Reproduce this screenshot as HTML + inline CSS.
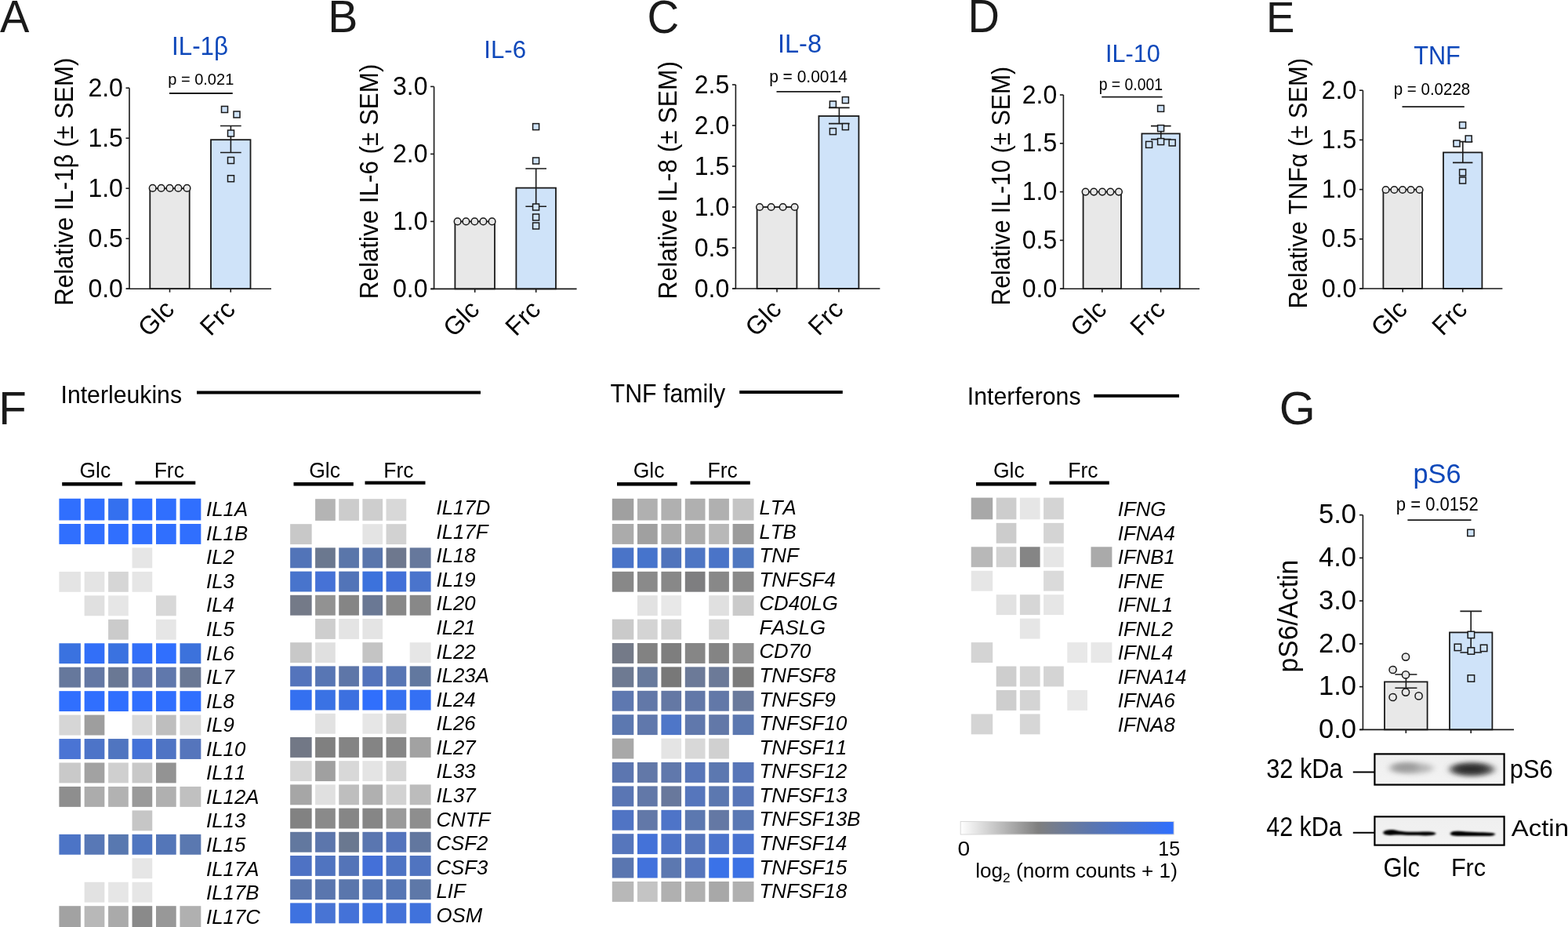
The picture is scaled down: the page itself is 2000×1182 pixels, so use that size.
<!DOCTYPE html>
<html><head><meta charset="utf-8"><title>Figure</title><style>html,body{margin:0;padding:0;background:#fff;}svg{display:block;}text{font-kerning:none;}</style></head><body>
<svg xmlns="http://www.w3.org/2000/svg" width="2000" height="1182" viewBox="0 0 2000 1182" font-family="'Liberation Sans', Arial, sans-serif">
<rect width="2000" height="1182" fill="#ffffff"/>
<text id="LA" transform="translate(0.00,40.98) scale(1.0012,1.0281)" font-size="56" fill="#1a1a1a">A</text>
<text id="tA" transform="translate(255.01,69.80) scale(0.9769,1.0498)" font-size="32" text-anchor="middle" fill="#0e48ba">IL-1β</text>
<rect x="191.30" y="240.20" width="50.40" height="128.00" fill="#e8e8e8" stroke="#1a1a1a" stroke-width="1.8"/>
<rect x="269.00" y="178.20" width="50.50" height="190.00" fill="#cfe3f9" stroke="#1a1a1a" stroke-width="1.8"/>
<path d="M165.00,112.20 V368.20 M161.00,368.20 H346.00" stroke="#1a1a1a" stroke-width="1.6" fill="none"/>
<path d="M160.50,368.20 H165.00" stroke="#1a1a1a" stroke-width="1.6"/>
<text transform="translate(156.90,378.80) scale(1.0000,1.0400)" font-size="32.0" text-anchor="end">0.0</text>
<path d="M160.50,304.20 H165.00" stroke="#1a1a1a" stroke-width="1.6"/>
<text transform="translate(156.90,314.80) scale(1.0000,1.0400)" font-size="32.0" text-anchor="end">0.5</text>
<path d="M160.50,240.20 H165.00" stroke="#1a1a1a" stroke-width="1.6"/>
<text transform="translate(156.90,250.80) scale(1.0000,1.0400)" font-size="32.0" text-anchor="end">1.0</text>
<path d="M160.50,176.20 H165.00" stroke="#1a1a1a" stroke-width="1.6"/>
<text transform="translate(156.90,186.80) scale(1.0000,1.0400)" font-size="32.0" text-anchor="end">1.5</text>
<path d="M160.50,112.20 H165.00" stroke="#1a1a1a" stroke-width="1.6"/>
<text transform="translate(156.90,122.80) scale(1.0000,1.0400)" font-size="32.0" text-anchor="end">2.0</text>
<path d="M216.50,368.20 V372.70" stroke="#1a1a1a" stroke-width="1.6"/>
<path d="M294.25,368.20 V372.70" stroke="#1a1a1a" stroke-width="1.6"/>
<text transform="translate(224.00,396.50) rotate(-45)" font-size="32.5" text-anchor="end">Glc</text>
<text transform="translate(301.75,396.50) rotate(-45)" font-size="32.5" text-anchor="end">Frc</text>
<path d="M294.40,160.50 V194.50 M281.00,160.50 H307.70 M281.00,194.50 H307.70" stroke="#1a1a1a" stroke-width="1.6" fill="none"/>
<circle cx="194.70" cy="239.90" r="4.3" fill="#e8e8e8" stroke="#1a1a1a" stroke-width="1.5"/>
<circle cx="205.60" cy="239.90" r="4.3" fill="#e8e8e8" stroke="#1a1a1a" stroke-width="1.5"/>
<circle cx="216.50" cy="239.90" r="4.3" fill="#e8e8e8" stroke="#1a1a1a" stroke-width="1.5"/>
<circle cx="227.40" cy="239.90" r="4.3" fill="#e8e8e8" stroke="#1a1a1a" stroke-width="1.5"/>
<circle cx="238.50" cy="239.90" r="4.3" fill="#e8e8e8" stroke="#1a1a1a" stroke-width="1.5"/>
<rect x="282.50" y="135.50" width="8.0" height="8.0" fill="#cfe3f9" stroke="#1a1a1a" stroke-width="1.5"/>
<rect x="298.00" y="142.00" width="8.0" height="8.0" fill="#cfe3f9" stroke="#1a1a1a" stroke-width="1.5"/>
<rect x="290.50" y="166.00" width="8.0" height="8.0" fill="#cfe3f9" stroke="#1a1a1a" stroke-width="1.5"/>
<rect x="290.50" y="200.50" width="8.0" height="8.0" fill="#cfe3f9" stroke="#1a1a1a" stroke-width="1.5"/>
<rect x="290.50" y="223.70" width="8.0" height="8.0" fill="#cfe3f9" stroke="#1a1a1a" stroke-width="1.5"/>
<text id="pA" transform="translate(256.25,107.59) scale(0.9539,0.9886)" font-size="21" text-anchor="middle">p = 0.021</text>
<path d="M216.00,119.00 H296.75" stroke="#1a1a1a" stroke-width="1.8"/>
<text id="yA" transform="translate(92.50,231.65) rotate(-90) scale(0.9889,1.0400)" font-size="31.6" text-anchor="middle">Relative IL-1β (± SEM)</text>
<text id="LB" transform="translate(418.17,41.20) scale(1.0217,1.0391)" font-size="56" fill="#1a1a1a">B</text>
<text id="tB" transform="translate(644.15,73.95) scale(0.9751,0.9993)" font-size="32" text-anchor="middle" fill="#0e48ba">IL-6</text>
<rect x="580.40" y="282.40" width="50.60" height="86.00" fill="#e8e8e8" stroke="#1a1a1a" stroke-width="1.8"/>
<rect x="658.40" y="239.60" width="50.60" height="128.80" fill="#cfe3f9" stroke="#1a1a1a" stroke-width="1.8"/>
<path d="M553.60,110.40 V368.40 M549.60,368.40 H735.60" stroke="#1a1a1a" stroke-width="1.6" fill="none"/>
<path d="M549.10,368.40 H553.60" stroke="#1a1a1a" stroke-width="1.6"/>
<text transform="translate(545.50,379.00) scale(1.0000,1.0400)" font-size="32.0" text-anchor="end">0.0</text>
<path d="M549.10,282.40 H553.60" stroke="#1a1a1a" stroke-width="1.6"/>
<text transform="translate(545.50,293.00) scale(1.0000,1.0400)" font-size="32.0" text-anchor="end">1.0</text>
<path d="M549.10,196.40 H553.60" stroke="#1a1a1a" stroke-width="1.6"/>
<text transform="translate(545.50,207.00) scale(1.0000,1.0400)" font-size="32.0" text-anchor="end">2.0</text>
<path d="M549.10,110.40 H553.60" stroke="#1a1a1a" stroke-width="1.6"/>
<text transform="translate(545.50,121.00) scale(1.0000,1.0400)" font-size="32.0" text-anchor="end">3.0</text>
<path d="M605.70,368.40 V372.90" stroke="#1a1a1a" stroke-width="1.6"/>
<path d="M683.70,368.40 V372.90" stroke="#1a1a1a" stroke-width="1.6"/>
<text transform="translate(613.20,396.70) rotate(-45)" font-size="32.5" text-anchor="end">Glc</text>
<text transform="translate(691.20,396.70) rotate(-45)" font-size="32.5" text-anchor="end">Frc</text>
<path d="M683.70,215.00 V263.20 M670.40,215.00 H697.00 M670.40,263.20 H697.00" stroke="#1a1a1a" stroke-width="1.6" fill="none"/>
<circle cx="583.60" cy="282.40" r="4.3" fill="#e8e8e8" stroke="#1a1a1a" stroke-width="1.5"/>
<circle cx="594.40" cy="282.40" r="4.3" fill="#e8e8e8" stroke="#1a1a1a" stroke-width="1.5"/>
<circle cx="605.40" cy="282.40" r="4.3" fill="#e8e8e8" stroke="#1a1a1a" stroke-width="1.5"/>
<circle cx="616.40" cy="282.40" r="4.3" fill="#e8e8e8" stroke="#1a1a1a" stroke-width="1.5"/>
<circle cx="627.60" cy="282.40" r="4.3" fill="#e8e8e8" stroke="#1a1a1a" stroke-width="1.5"/>
<rect x="679.60" y="157.60" width="8.0" height="8.0" fill="#cfe3f9" stroke="#1a1a1a" stroke-width="1.5"/>
<rect x="679.60" y="201.00" width="8.0" height="8.0" fill="#cfe3f9" stroke="#1a1a1a" stroke-width="1.5"/>
<rect x="679.60" y="260.00" width="8.0" height="8.0" fill="#cfe3f9" stroke="#1a1a1a" stroke-width="1.5"/>
<rect x="679.60" y="273.00" width="8.0" height="8.0" fill="#cfe3f9" stroke="#1a1a1a" stroke-width="1.5"/>
<rect x="679.60" y="284.00" width="8.0" height="8.0" fill="#cfe3f9" stroke="#1a1a1a" stroke-width="1.5"/>
<text id="yB" transform="translate(481.70,231.40) rotate(-90) scale(0.9926,1.0400)" font-size="31.6" text-anchor="middle">Relative IL-6 (± SEM)</text>
<text id="LC" transform="translate(825.54,41.59) scale(1.0068,1.0585)" font-size="56" fill="#1a1a1a">C</text>
<text id="tC" transform="translate(1020.00,66.50) scale(1.0164,1.0466)" font-size="32" text-anchor="middle" fill="#0e48ba">IL-8</text>
<rect x="965.60" y="264.00" width="50.80" height="104.00" fill="#e8e8e8" stroke="#1a1a1a" stroke-width="1.8"/>
<rect x="1044.40" y="148.00" width="51.00" height="220.00" fill="#cfe3f9" stroke="#1a1a1a" stroke-width="1.8"/>
<path d="M938.40,108.00 V368.00 M934.40,368.00 H1122.40" stroke="#1a1a1a" stroke-width="1.6" fill="none"/>
<path d="M933.90,368.00 H938.40" stroke="#1a1a1a" stroke-width="1.6"/>
<text transform="translate(930.30,378.60) scale(1.0000,1.0400)" font-size="32.0" text-anchor="end">0.0</text>
<path d="M933.90,316.00 H938.40" stroke="#1a1a1a" stroke-width="1.6"/>
<text transform="translate(930.30,326.60) scale(1.0000,1.0400)" font-size="32.0" text-anchor="end">0.5</text>
<path d="M933.90,264.00 H938.40" stroke="#1a1a1a" stroke-width="1.6"/>
<text transform="translate(930.30,274.60) scale(1.0000,1.0400)" font-size="32.0" text-anchor="end">1.0</text>
<path d="M933.90,212.00 H938.40" stroke="#1a1a1a" stroke-width="1.6"/>
<text transform="translate(930.30,222.60) scale(1.0000,1.0400)" font-size="32.0" text-anchor="end">1.5</text>
<path d="M933.90,160.00 H938.40" stroke="#1a1a1a" stroke-width="1.6"/>
<text transform="translate(930.30,170.60) scale(1.0000,1.0400)" font-size="32.0" text-anchor="end">2.0</text>
<path d="M933.90,108.00 H938.40" stroke="#1a1a1a" stroke-width="1.6"/>
<text transform="translate(930.30,118.60) scale(1.0000,1.0400)" font-size="32.0" text-anchor="end">2.5</text>
<path d="M991.00,368.00 V372.50" stroke="#1a1a1a" stroke-width="1.6"/>
<path d="M1069.90,368.00 V372.50" stroke="#1a1a1a" stroke-width="1.6"/>
<text transform="translate(998.50,396.30) rotate(-45)" font-size="32.5" text-anchor="end">Glc</text>
<text transform="translate(1077.40,396.30) rotate(-45)" font-size="32.5" text-anchor="end">Frc</text>
<path d="M1070.40,137.40 V157.60 M1057.00,137.40 H1083.60 M1057.00,157.60 H1083.60" stroke="#1a1a1a" stroke-width="1.6" fill="none"/>
<circle cx="969.00" cy="264.00" r="4.3" fill="#e8e8e8" stroke="#1a1a1a" stroke-width="1.5"/>
<circle cx="983.60" cy="264.00" r="4.3" fill="#e8e8e8" stroke="#1a1a1a" stroke-width="1.5"/>
<circle cx="998.60" cy="264.00" r="4.3" fill="#e8e8e8" stroke="#1a1a1a" stroke-width="1.5"/>
<circle cx="1013.60" cy="264.00" r="4.3" fill="#e8e8e8" stroke="#1a1a1a" stroke-width="1.5"/>
<rect x="1058.40" y="129.00" width="8.0" height="8.0" fill="#cfe3f9" stroke="#1a1a1a" stroke-width="1.5"/>
<rect x="1074.40" y="123.60" width="8.0" height="8.0" fill="#cfe3f9" stroke="#1a1a1a" stroke-width="1.5"/>
<rect x="1074.40" y="157.60" width="8.0" height="8.0" fill="#cfe3f9" stroke="#1a1a1a" stroke-width="1.5"/>
<rect x="1058.40" y="163.60" width="8.0" height="8.0" fill="#cfe3f9" stroke="#1a1a1a" stroke-width="1.5"/>
<text id="pC" transform="translate(1031.00,105.31) scale(1.0001,1.0140)" font-size="21" text-anchor="middle">p = 0.0014</text>
<path d="M990.50,116.90 H1072.20" stroke="#1a1a1a" stroke-width="1.8"/>
<text id="yC" transform="translate(862.70,229.70) rotate(-90) scale(1.0054,1.0400)" font-size="31.6" text-anchor="middle">Relative IL-8 (± SEM)</text>
<text id="LD" transform="translate(1234.50,41.24) scale(1.0000,1.0538)" font-size="56" fill="#1a1a1a">D</text>
<text id="tD" transform="translate(1444.95,79.15) scale(0.9576,0.9798)" font-size="32" text-anchor="middle" fill="#0e48ba">IL-10</text>
<rect x="1381.60" y="244.60" width="48.40" height="123.60" fill="#e8e8e8" stroke="#1a1a1a" stroke-width="1.8"/>
<rect x="1456.40" y="170.40" width="48.40" height="197.80" fill="#cfe3f9" stroke="#1a1a1a" stroke-width="1.8"/>
<path d="M1356.40,121.00 V368.20 M1352.40,368.20 H1530.00" stroke="#1a1a1a" stroke-width="1.6" fill="none"/>
<path d="M1351.90,368.20 H1356.40" stroke="#1a1a1a" stroke-width="1.6"/>
<text transform="translate(1348.30,378.80) scale(1.0000,1.0400)" font-size="32.0" text-anchor="end">0.0</text>
<path d="M1351.90,306.40 H1356.40" stroke="#1a1a1a" stroke-width="1.6"/>
<text transform="translate(1348.30,317.00) scale(1.0000,1.0400)" font-size="32.0" text-anchor="end">0.5</text>
<path d="M1351.90,244.60 H1356.40" stroke="#1a1a1a" stroke-width="1.6"/>
<text transform="translate(1348.30,255.20) scale(1.0000,1.0400)" font-size="32.0" text-anchor="end">1.0</text>
<path d="M1351.90,182.80 H1356.40" stroke="#1a1a1a" stroke-width="1.6"/>
<text transform="translate(1348.30,193.40) scale(1.0000,1.0400)" font-size="32.0" text-anchor="end">1.5</text>
<path d="M1351.90,121.00 H1356.40" stroke="#1a1a1a" stroke-width="1.6"/>
<text transform="translate(1348.30,131.60) scale(1.0000,1.0400)" font-size="32.0" text-anchor="end">2.0</text>
<path d="M1405.80,368.20 V372.70" stroke="#1a1a1a" stroke-width="1.6"/>
<path d="M1480.60,368.20 V372.70" stroke="#1a1a1a" stroke-width="1.6"/>
<text transform="translate(1413.30,396.50) rotate(-45)" font-size="32.5" text-anchor="end">Glc</text>
<text transform="translate(1488.10,396.50) rotate(-45)" font-size="32.5" text-anchor="end">Frc</text>
<path d="M1480.80,160.60 V177.60 M1468.00,160.60 H1493.60 M1468.00,177.60 H1493.60" stroke="#1a1a1a" stroke-width="1.6" fill="none"/>
<circle cx="1384.60" cy="244.60" r="4.3" fill="#e8e8e8" stroke="#1a1a1a" stroke-width="1.5"/>
<circle cx="1395.20" cy="244.60" r="4.3" fill="#e8e8e8" stroke="#1a1a1a" stroke-width="1.5"/>
<circle cx="1406.00" cy="244.60" r="4.3" fill="#e8e8e8" stroke="#1a1a1a" stroke-width="1.5"/>
<circle cx="1416.40" cy="244.60" r="4.3" fill="#e8e8e8" stroke="#1a1a1a" stroke-width="1.5"/>
<circle cx="1427.00" cy="244.60" r="4.3" fill="#e8e8e8" stroke="#1a1a1a" stroke-width="1.5"/>
<rect x="1476.60" y="134.40" width="8.0" height="8.0" fill="#cfe3f9" stroke="#1a1a1a" stroke-width="1.5"/>
<rect x="1476.60" y="159.60" width="8.0" height="8.0" fill="#cfe3f9" stroke="#1a1a1a" stroke-width="1.5"/>
<rect x="1476.60" y="176.60" width="8.0" height="8.0" fill="#cfe3f9" stroke="#1a1a1a" stroke-width="1.5"/>
<rect x="1461.60" y="180.40" width="8.0" height="8.0" fill="#cfe3f9" stroke="#1a1a1a" stroke-width="1.5"/>
<rect x="1491.20" y="178.00" width="8.0" height="8.0" fill="#cfe3f9" stroke="#1a1a1a" stroke-width="1.5"/>
<text id="pD" transform="translate(1442.39,115.44) scale(0.9246,1.0604)" font-size="21" text-anchor="middle">p = 0.001</text>
<path d="M1405.25,123.60 H1482.75" stroke="#1a1a1a" stroke-width="1.8"/>
<text id="yD" transform="translate(1288.20,237.19) rotate(-90) scale(0.9543,1.0400)" font-size="31.6" text-anchor="middle">Relative IL-10 (± SEM)</text>
<text id="LE" transform="translate(1614.89,40.77) scale(0.9745,1.0011)" font-size="56" fill="#1a1a1a">E</text>
<text id="tE" transform="translate(1832.95,81.81) scale(0.9585,1.0179)" font-size="32" text-anchor="middle" fill="#0e48ba">TNF</text>
<rect x="1764.40" y="241.60" width="49.60" height="126.40" fill="#e8e8e8" stroke="#1a1a1a" stroke-width="1.8"/>
<rect x="1841.00" y="194.40" width="49.40" height="173.60" fill="#cfe3f9" stroke="#1a1a1a" stroke-width="1.8"/>
<path d="M1738.40,115.20 V368.00 M1734.40,368.00 H1916.40" stroke="#1a1a1a" stroke-width="1.6" fill="none"/>
<path d="M1733.90,368.00 H1738.40" stroke="#1a1a1a" stroke-width="1.6"/>
<text transform="translate(1730.30,378.60) scale(1.0000,1.0400)" font-size="32.0" text-anchor="end">0.0</text>
<path d="M1733.90,304.80 H1738.40" stroke="#1a1a1a" stroke-width="1.6"/>
<text transform="translate(1730.30,315.40) scale(1.0000,1.0400)" font-size="32.0" text-anchor="end">0.5</text>
<path d="M1733.90,241.60 H1738.40" stroke="#1a1a1a" stroke-width="1.6"/>
<text transform="translate(1730.30,252.20) scale(1.0000,1.0400)" font-size="32.0" text-anchor="end">1.0</text>
<path d="M1733.90,178.40 H1738.40" stroke="#1a1a1a" stroke-width="1.6"/>
<text transform="translate(1730.30,189.00) scale(1.0000,1.0400)" font-size="32.0" text-anchor="end">1.5</text>
<path d="M1733.90,115.20 H1738.40" stroke="#1a1a1a" stroke-width="1.6"/>
<text transform="translate(1730.30,125.80) scale(1.0000,1.0400)" font-size="32.0" text-anchor="end">2.0</text>
<path d="M1789.20,368.00 V372.50" stroke="#1a1a1a" stroke-width="1.6"/>
<path d="M1865.70,368.00 V372.50" stroke="#1a1a1a" stroke-width="1.6"/>
<text transform="translate(1796.70,396.30) rotate(-45)" font-size="32.5" text-anchor="end">Glc</text>
<text transform="translate(1873.20,396.30) rotate(-45)" font-size="32.5" text-anchor="end">Frc</text>
<path d="M1865.80,180.60 V207.40 M1853.00,180.60 H1878.40 M1853.00,207.40 H1878.40" stroke="#1a1a1a" stroke-width="1.6" fill="none"/>
<circle cx="1767.60" cy="242.00" r="4.3" fill="#e8e8e8" stroke="#1a1a1a" stroke-width="1.5"/>
<circle cx="1778.40" cy="242.00" r="4.3" fill="#e8e8e8" stroke="#1a1a1a" stroke-width="1.5"/>
<circle cx="1789.00" cy="242.00" r="4.3" fill="#e8e8e8" stroke="#1a1a1a" stroke-width="1.5"/>
<circle cx="1799.60" cy="242.00" r="4.3" fill="#e8e8e8" stroke="#1a1a1a" stroke-width="1.5"/>
<circle cx="1810.60" cy="242.00" r="4.3" fill="#e8e8e8" stroke="#1a1a1a" stroke-width="1.5"/>
<rect x="1861.60" y="155.60" width="8.0" height="8.0" fill="#cfe3f9" stroke="#1a1a1a" stroke-width="1.5"/>
<rect x="1869.20" y="173.00" width="8.0" height="8.0" fill="#cfe3f9" stroke="#1a1a1a" stroke-width="1.5"/>
<rect x="1854.00" y="179.00" width="8.0" height="8.0" fill="#cfe3f9" stroke="#1a1a1a" stroke-width="1.5"/>
<rect x="1861.60" y="216.00" width="8.0" height="8.0" fill="#cfe3f9" stroke="#1a1a1a" stroke-width="1.5"/>
<rect x="1861.60" y="226.00" width="8.0" height="8.0" fill="#cfe3f9" stroke="#1a1a1a" stroke-width="1.5"/>
<text id="pE" transform="translate(1826.50,121.01) scale(0.9776,1.0752)" font-size="21" text-anchor="middle">p = 0.0228</text>
<path d="M1788.50,136.20 H1867.80" stroke="#1a1a1a" stroke-width="1.8"/>
<text id="yE" transform="translate(1667.40,233.84) rotate(-90) scale(0.9774,1.0400)" font-size="31.6" text-anchor="middle">Relative TNFα (± SEM)</text>
<text id="LF" transform="translate(-1.66,541.48) scale(1.0405,1.0559)" font-size="56" fill="#1a1a1a">F</text>
<text id="hIL" transform="translate(77.53,513.94) scale(0.9908,1.0288)" font-size="30.5">Interleukins</text>
<path d="M251,500.5 H613" stroke="#000" stroke-width="4"/>
<text id="hTNF" transform="translate(778.61,513.40) scale(0.9945,1.0830)" font-size="30.5">TNF family</text>
<path d="M943.2,500 H1074.8" stroke="#000" stroke-width="4"/>
<text id="hIFN" transform="translate(1233.82,515.81) scale(0.9930,1.0359)" font-size="30.5">Interferons</text>
<path d="M1395.2,504.8 H1504" stroke="#000" stroke-width="4"/>
<path d="M79.20,617.3 H156.00 M172.50,615.6 H249.30" stroke="#000" stroke-width="4.4"/>
<text transform="translate(121.30,608.70) scale(1.0000,1.0500)" font-size="26.5" text-anchor="middle">Glc</text>
<text transform="translate(215.80,608.70) scale(1.0000,1.0500)" font-size="26.5" text-anchor="middle">Frc</text>
<path d="M374.50,617.3 H450.80 M465.50,615.6 H542.50" stroke="#000" stroke-width="4.4"/>
<text transform="translate(414.00,608.70) scale(1.0000,1.0500)" font-size="26.5" text-anchor="middle">Glc</text>
<text transform="translate(508.50,608.70) scale(1.0000,1.0500)" font-size="26.5" text-anchor="middle">Frc</text>
<path d="M787.00,617.3 H863.70 M880.50,615.6 H956.80" stroke="#000" stroke-width="4.4"/>
<text transform="translate(827.60,608.70) scale(1.0000,1.0500)" font-size="26.5" text-anchor="middle">Glc</text>
<text transform="translate(921.70,608.70) scale(1.0000,1.0500)" font-size="26.5" text-anchor="middle">Frc</text>
<path d="M1245.00,617.3 H1321.80 M1338.40,615.6 H1414.80" stroke="#000" stroke-width="4.4"/>
<text transform="translate(1286.80,608.70) scale(1.0000,1.0500)" font-size="26.5" text-anchor="middle">Glc</text>
<text transform="translate(1381.50,608.70) scale(1.0000,1.0500)" font-size="26.5" text-anchor="middle">Frc</text>
<rect x="75.40" y="635.75" width="27.50" height="27.70" fill="#306ffe"/>
<rect x="107.65" y="635.75" width="25.70" height="27.70" fill="#306ffe"/>
<rect x="138.10" y="635.75" width="25.70" height="27.70" fill="#3470ef"/>
<rect x="168.55" y="635.75" width="25.70" height="27.70" fill="#306ffe"/>
<rect x="199.00" y="635.75" width="25.70" height="27.70" fill="#306ffe"/>
<rect x="229.45" y="635.75" width="26.90" height="27.70" fill="#306ffe"/>
<rect x="75.40" y="668.00" width="27.50" height="25.90" fill="#306ffe"/>
<rect x="107.65" y="668.00" width="25.70" height="25.90" fill="#306ffe"/>
<rect x="138.10" y="668.00" width="25.70" height="25.90" fill="#306ffe"/>
<rect x="168.55" y="668.00" width="25.70" height="25.90" fill="#306ffe"/>
<rect x="199.00" y="668.00" width="25.70" height="25.90" fill="#306ffe"/>
<rect x="229.45" y="668.00" width="26.90" height="25.90" fill="#306ffe"/>
<rect x="168.55" y="698.45" width="25.70" height="25.90" fill="#e6e6e6"/>
<rect x="75.40" y="728.90" width="27.50" height="25.90" fill="#e4e4e4"/>
<rect x="107.65" y="728.90" width="25.70" height="25.90" fill="#e4e4e4"/>
<rect x="138.10" y="728.90" width="25.70" height="25.90" fill="#d6d6d6"/>
<rect x="168.55" y="728.90" width="25.70" height="25.90" fill="#e6e6e6"/>
<rect x="107.65" y="759.35" width="25.70" height="25.90" fill="#e0e0e0"/>
<rect x="138.10" y="759.35" width="25.70" height="25.90" fill="#e6e6e6"/>
<rect x="199.00" y="759.35" width="25.70" height="25.90" fill="#d8d8d8"/>
<rect x="138.10" y="789.80" width="25.70" height="25.90" fill="#cbcbcb"/>
<rect x="199.00" y="789.80" width="25.70" height="25.90" fill="#e6e6e6"/>
<rect x="75.40" y="820.25" width="27.50" height="25.90" fill="#3a72e0"/>
<rect x="107.65" y="820.25" width="25.70" height="25.90" fill="#326ff8"/>
<rect x="138.10" y="820.25" width="25.70" height="25.90" fill="#3a72e0"/>
<rect x="168.55" y="820.25" width="25.70" height="25.90" fill="#326ff8"/>
<rect x="199.00" y="820.25" width="25.70" height="25.90" fill="#306ffe"/>
<rect x="229.45" y="820.25" width="26.90" height="25.90" fill="#3c72dc"/>
<rect x="75.40" y="850.70" width="27.50" height="25.90" fill="#66789c"/>
<rect x="107.65" y="850.70" width="25.70" height="25.90" fill="#6478a4"/>
<rect x="138.10" y="850.70" width="25.70" height="25.90" fill="#6a7894"/>
<rect x="168.55" y="850.70" width="25.70" height="25.90" fill="#6478a8"/>
<rect x="199.00" y="850.70" width="25.70" height="25.90" fill="#6078ac"/>
<rect x="229.45" y="850.70" width="26.90" height="25.90" fill="#6a7894"/>
<rect x="75.40" y="881.15" width="27.50" height="25.90" fill="#306ffe"/>
<rect x="107.65" y="881.15" width="25.70" height="25.90" fill="#306ffe"/>
<rect x="138.10" y="881.15" width="25.70" height="25.90" fill="#306ffe"/>
<rect x="168.55" y="881.15" width="25.70" height="25.90" fill="#306ffe"/>
<rect x="199.00" y="881.15" width="25.70" height="25.90" fill="#306ffe"/>
<rect x="229.45" y="881.15" width="26.90" height="25.90" fill="#306ffe"/>
<rect x="75.40" y="911.60" width="27.50" height="25.90" fill="#d6d6d6"/>
<rect x="107.65" y="911.60" width="25.70" height="25.90" fill="#9e9e9e"/>
<rect x="168.55" y="911.60" width="25.70" height="25.90" fill="#dadada"/>
<rect x="199.00" y="911.60" width="25.70" height="25.90" fill="#bebebe"/>
<rect x="229.45" y="911.60" width="26.90" height="25.90" fill="#dadada"/>
<rect x="75.40" y="942.05" width="27.50" height="25.90" fill="#4a74d4"/>
<rect x="107.65" y="942.05" width="25.70" height="25.90" fill="#4d74c8"/>
<rect x="138.10" y="942.05" width="25.70" height="25.90" fill="#5075c0"/>
<rect x="168.55" y="942.05" width="25.70" height="25.90" fill="#4472d8"/>
<rect x="199.00" y="942.05" width="25.70" height="25.90" fill="#4f74c4"/>
<rect x="229.45" y="942.05" width="26.90" height="25.90" fill="#5575bc"/>
<rect x="75.40" y="972.50" width="27.50" height="25.90" fill="#c9c9c9"/>
<rect x="107.65" y="972.50" width="25.70" height="25.90" fill="#a2a2a2"/>
<rect x="138.10" y="972.50" width="25.70" height="25.90" fill="#cfcfcf"/>
<rect x="168.55" y="972.50" width="25.70" height="25.90" fill="#c8c8c8"/>
<rect x="199.00" y="972.50" width="25.70" height="25.90" fill="#939393"/>
<rect x="75.40" y="1002.95" width="27.50" height="25.90" fill="#8e8e8e"/>
<rect x="107.65" y="1002.95" width="25.70" height="25.90" fill="#acacac"/>
<rect x="138.10" y="1002.95" width="25.70" height="25.90" fill="#b2b2b2"/>
<rect x="168.55" y="1002.95" width="25.70" height="25.90" fill="#9a9a9a"/>
<rect x="199.00" y="1002.95" width="25.70" height="25.90" fill="#b0b0b0"/>
<rect x="229.45" y="1002.95" width="26.90" height="25.90" fill="#c0c0c0"/>
<rect x="168.55" y="1033.40" width="25.70" height="25.90" fill="#c6c6c6"/>
<rect x="75.40" y="1063.85" width="27.50" height="25.90" fill="#4c74c6"/>
<rect x="107.65" y="1063.85" width="25.70" height="25.90" fill="#5878b6"/>
<rect x="138.10" y="1063.85" width="25.70" height="25.90" fill="#5878b0"/>
<rect x="168.55" y="1063.85" width="25.70" height="25.90" fill="#5076c0"/>
<rect x="199.00" y="1063.85" width="25.70" height="25.90" fill="#5476b8"/>
<rect x="229.45" y="1063.85" width="26.90" height="25.90" fill="#5a78b0"/>
<rect x="168.55" y="1094.30" width="25.70" height="25.90" fill="#e6e6e6"/>
<rect x="107.65" y="1124.75" width="25.70" height="25.90" fill="#e2e2e2"/>
<rect x="138.10" y="1124.75" width="25.70" height="25.90" fill="#e6e6e6"/>
<rect x="168.55" y="1124.75" width="25.70" height="25.90" fill="#e6e6e6"/>
<rect x="75.40" y="1155.20" width="27.50" height="26.80" fill="#a2a2a2"/>
<rect x="107.65" y="1155.20" width="25.70" height="26.80" fill="#b8b8b8"/>
<rect x="138.10" y="1155.20" width="25.70" height="26.80" fill="#aaaaaa"/>
<rect x="168.55" y="1155.20" width="25.70" height="26.80" fill="#8a8a8a"/>
<rect x="199.00" y="1155.20" width="25.70" height="26.80" fill="#989898"/>
<rect x="229.45" y="1155.20" width="26.90" height="26.80" fill="#b0b0b0"/>
<text transform="translate(263.10,658.15) scale(1.0000,0.9800)" font-size="25.8" font-style="italic">IL1A</text>
<text transform="translate(263.10,688.71) scale(1.0000,0.9800)" font-size="25.8" font-style="italic">IL1B</text>
<text transform="translate(263.10,719.28) scale(1.0000,0.9800)" font-size="25.8" font-style="italic">IL2</text>
<text transform="translate(263.10,749.84) scale(1.0000,0.9800)" font-size="25.8" font-style="italic">IL3</text>
<text transform="translate(263.10,780.41) scale(1.0000,0.9800)" font-size="25.8" font-style="italic">IL4</text>
<text transform="translate(263.10,810.97) scale(1.0000,0.9800)" font-size="25.8" font-style="italic">IL5</text>
<text transform="translate(263.10,841.53) scale(1.0000,0.9800)" font-size="25.8" font-style="italic">IL6</text>
<text transform="translate(263.10,872.10) scale(1.0000,0.9800)" font-size="25.8" font-style="italic">IL7</text>
<text transform="translate(263.10,902.66) scale(1.0000,0.9800)" font-size="25.8" font-style="italic">IL8</text>
<text transform="translate(263.10,933.23) scale(1.0000,0.9800)" font-size="25.8" font-style="italic">IL9</text>
<text transform="translate(263.10,963.79) scale(1.0000,0.9800)" font-size="25.8" font-style="italic">IL10</text>
<text transform="translate(263.10,994.35) scale(1.0000,0.9800)" font-size="25.8" font-style="italic">IL11</text>
<text transform="translate(263.10,1024.92) scale(1.0000,0.9800)" font-size="25.8" font-style="italic">IL12A</text>
<text transform="translate(263.10,1055.48) scale(1.0000,0.9800)" font-size="25.8" font-style="italic">IL13</text>
<text transform="translate(263.10,1086.05) scale(1.0000,0.9800)" font-size="25.8" font-style="italic">IL15</text>
<text transform="translate(263.10,1116.61) scale(1.0000,0.9800)" font-size="25.8" font-style="italic">IL17A</text>
<text transform="translate(263.10,1147.17) scale(1.0000,0.9800)" font-size="25.8" font-style="italic">IL17B</text>
<text transform="translate(263.10,1177.74) scale(1.0000,0.9800)" font-size="25.8" font-style="italic">IL17C</text>
<rect x="402.10" y="636.20" width="25.70" height="27.70" fill="#b4b4b4"/>
<rect x="432.25" y="636.20" width="25.70" height="27.70" fill="#cccccc"/>
<rect x="462.40" y="636.20" width="25.70" height="27.70" fill="#cecece"/>
<rect x="492.55" y="636.20" width="25.70" height="27.70" fill="#d8d8d8"/>
<rect x="370.15" y="668.20" width="27.50" height="25.90" fill="#c8c8c8"/>
<rect x="462.40" y="668.20" width="25.70" height="25.90" fill="#e4e4e4"/>
<rect x="492.55" y="668.20" width="25.70" height="25.90" fill="#d2d2d2"/>
<rect x="370.15" y="698.40" width="27.50" height="25.90" fill="#5274b8"/>
<rect x="402.10" y="698.40" width="25.70" height="25.90" fill="#6b788f"/>
<rect x="432.25" y="698.40" width="25.70" height="25.90" fill="#5a76aa"/>
<rect x="462.40" y="698.40" width="25.70" height="25.90" fill="#5a76ac"/>
<rect x="492.55" y="698.40" width="25.70" height="25.90" fill="#6e788e"/>
<rect x="522.70" y="698.40" width="26.90" height="25.90" fill="#66789c"/>
<rect x="370.15" y="728.60" width="27.50" height="25.90" fill="#4874cc"/>
<rect x="402.10" y="728.60" width="25.70" height="25.90" fill="#4672d6"/>
<rect x="432.25" y="728.60" width="25.70" height="25.90" fill="#5274b8"/>
<rect x="462.40" y="728.60" width="25.70" height="25.90" fill="#3c72dc"/>
<rect x="492.55" y="728.60" width="25.70" height="25.90" fill="#4270d8"/>
<rect x="522.70" y="728.60" width="26.90" height="25.90" fill="#4a74cc"/>
<rect x="370.15" y="758.80" width="27.50" height="25.90" fill="#747a88"/>
<rect x="402.10" y="758.80" width="25.70" height="25.90" fill="#929292"/>
<rect x="432.25" y="758.80" width="25.70" height="25.90" fill="#858585"/>
<rect x="462.40" y="758.80" width="25.70" height="25.90" fill="#6a7894"/>
<rect x="492.55" y="758.80" width="25.70" height="25.90" fill="#888888"/>
<rect x="522.70" y="758.80" width="26.90" height="25.90" fill="#888888"/>
<rect x="402.10" y="789.00" width="25.70" height="25.90" fill="#cecece"/>
<rect x="432.25" y="789.00" width="25.70" height="25.90" fill="#e4e4e4"/>
<rect x="462.40" y="789.00" width="25.70" height="25.90" fill="#e4e4e4"/>
<rect x="370.15" y="819.20" width="27.50" height="25.90" fill="#c8c8c8"/>
<rect x="402.10" y="819.20" width="25.70" height="25.90" fill="#e0e0e0"/>
<rect x="462.40" y="819.20" width="25.70" height="25.90" fill="#c4c4c4"/>
<rect x="522.70" y="819.20" width="26.90" height="25.90" fill="#e6e6e6"/>
<rect x="370.15" y="849.40" width="27.50" height="25.90" fill="#5474bc"/>
<rect x="402.10" y="849.40" width="25.70" height="25.90" fill="#5876b4"/>
<rect x="432.25" y="849.40" width="25.70" height="25.90" fill="#5e76a8"/>
<rect x="462.40" y="849.40" width="25.70" height="25.90" fill="#5474bc"/>
<rect x="492.55" y="849.40" width="25.70" height="25.90" fill="#5876b4"/>
<rect x="522.70" y="849.40" width="26.90" height="25.90" fill="#62789f"/>
<rect x="370.15" y="879.60" width="27.50" height="25.90" fill="#3470f0"/>
<rect x="402.10" y="879.60" width="25.70" height="25.90" fill="#3a72e4"/>
<rect x="432.25" y="879.60" width="25.70" height="25.90" fill="#3c70e0"/>
<rect x="462.40" y="879.60" width="25.70" height="25.90" fill="#306ffc"/>
<rect x="492.55" y="879.60" width="25.70" height="25.90" fill="#3671f0"/>
<rect x="522.70" y="879.60" width="26.90" height="25.90" fill="#3470f4"/>
<rect x="402.10" y="909.80" width="25.70" height="25.90" fill="#e2e2e2"/>
<rect x="462.40" y="909.80" width="25.70" height="25.90" fill="#e6e6e6"/>
<rect x="492.55" y="909.80" width="25.70" height="25.90" fill="#d2d2d2"/>
<rect x="370.15" y="940.00" width="27.50" height="25.90" fill="#727886"/>
<rect x="402.10" y="940.00" width="25.70" height="25.90" fill="#808080"/>
<rect x="432.25" y="940.00" width="25.70" height="25.90" fill="#848484"/>
<rect x="462.40" y="940.00" width="25.70" height="25.90" fill="#848484"/>
<rect x="492.55" y="940.00" width="25.70" height="25.90" fill="#868686"/>
<rect x="522.70" y="940.00" width="26.90" height="25.90" fill="#a2a2a2"/>
<rect x="370.15" y="970.20" width="27.50" height="25.90" fill="#d6d6d6"/>
<rect x="402.10" y="970.20" width="25.70" height="25.90" fill="#a0a0a0"/>
<rect x="432.25" y="970.20" width="25.70" height="25.90" fill="#d8d8d8"/>
<rect x="462.40" y="970.20" width="25.70" height="25.90" fill="#e4e4e4"/>
<rect x="492.55" y="970.20" width="25.70" height="25.90" fill="#d6d6d6"/>
<rect x="370.15" y="1000.40" width="27.50" height="25.90" fill="#a6a6a6"/>
<rect x="402.10" y="1000.40" width="25.70" height="25.90" fill="#e0e0e0"/>
<rect x="432.25" y="1000.40" width="25.70" height="25.90" fill="#bebebe"/>
<rect x="462.40" y="1000.40" width="25.70" height="25.90" fill="#b0b0b0"/>
<rect x="492.55" y="1000.40" width="25.70" height="25.90" fill="#d2d2d2"/>
<rect x="522.70" y="1000.40" width="26.90" height="25.90" fill="#bcbcbc"/>
<rect x="370.15" y="1030.60" width="27.50" height="25.90" fill="#828282"/>
<rect x="402.10" y="1030.60" width="25.70" height="25.90" fill="#8a8a8a"/>
<rect x="432.25" y="1030.60" width="25.70" height="25.90" fill="#868686"/>
<rect x="462.40" y="1030.60" width="25.70" height="25.90" fill="#868686"/>
<rect x="492.55" y="1030.60" width="25.70" height="25.90" fill="#9a9a9a"/>
<rect x="522.70" y="1030.60" width="26.90" height="25.90" fill="#8e8e8e"/>
<rect x="370.15" y="1060.80" width="27.50" height="25.90" fill="#62789f"/>
<rect x="402.10" y="1060.80" width="25.70" height="25.90" fill="#5c76ac"/>
<rect x="432.25" y="1060.80" width="25.70" height="25.90" fill="#6a7890"/>
<rect x="462.40" y="1060.80" width="25.70" height="25.90" fill="#5a76b0"/>
<rect x="492.55" y="1060.80" width="25.70" height="25.90" fill="#5474bc"/>
<rect x="522.70" y="1060.80" width="26.90" height="25.90" fill="#62779f"/>
<rect x="370.15" y="1091.00" width="27.50" height="25.90" fill="#4e72c4"/>
<rect x="402.10" y="1091.00" width="25.70" height="25.90" fill="#5074c0"/>
<rect x="432.25" y="1091.00" width="25.70" height="25.90" fill="#5474b8"/>
<rect x="462.40" y="1091.00" width="25.70" height="25.90" fill="#4470d8"/>
<rect x="492.55" y="1091.00" width="25.70" height="25.90" fill="#4e74c4"/>
<rect x="522.70" y="1091.00" width="26.90" height="25.90" fill="#5074c0"/>
<rect x="370.15" y="1121.20" width="27.50" height="25.90" fill="#5a76ae"/>
<rect x="402.10" y="1121.20" width="25.70" height="25.90" fill="#5a76ae"/>
<rect x="432.25" y="1121.20" width="25.70" height="25.90" fill="#5a76ac"/>
<rect x="462.40" y="1121.20" width="25.70" height="25.90" fill="#5676b4"/>
<rect x="492.55" y="1121.20" width="25.70" height="25.90" fill="#5676b4"/>
<rect x="522.70" y="1121.20" width="26.90" height="25.90" fill="#5e78a8"/>
<rect x="370.15" y="1151.40" width="27.50" height="25.90" fill="#3e72e0"/>
<rect x="402.10" y="1151.40" width="25.70" height="25.90" fill="#4874d4"/>
<rect x="432.25" y="1151.40" width="25.70" height="25.90" fill="#4472d8"/>
<rect x="462.40" y="1151.40" width="25.70" height="25.90" fill="#3e72e0"/>
<rect x="492.55" y="1151.40" width="25.70" height="25.90" fill="#4472d8"/>
<rect x="522.70" y="1151.40" width="26.90" height="25.90" fill="#4072dc"/>
<text transform="translate(556.50,656.08) scale(1.0000,0.9800)" font-size="25.8" font-style="italic">IL17D</text>
<text transform="translate(556.50,686.66) scale(1.0000,0.9800)" font-size="25.8" font-style="italic">IL17F</text>
<text transform="translate(556.50,717.23) scale(1.0000,0.9800)" font-size="25.8" font-style="italic">IL18</text>
<text transform="translate(556.50,747.81) scale(1.0000,0.9800)" font-size="25.8" font-style="italic">IL19</text>
<text transform="translate(556.50,778.38) scale(1.0000,0.9800)" font-size="25.8" font-style="italic">IL20</text>
<text transform="translate(556.50,808.96) scale(1.0000,0.9800)" font-size="25.8" font-style="italic">IL21</text>
<text transform="translate(556.50,839.53) scale(1.0000,0.9800)" font-size="25.8" font-style="italic">IL22</text>
<text transform="translate(556.50,870.11) scale(1.0000,0.9800)" font-size="25.8" font-style="italic">IL23A</text>
<text transform="translate(556.50,900.68) scale(1.0000,0.9800)" font-size="25.8" font-style="italic">IL24</text>
<text transform="translate(556.50,931.26) scale(1.0000,0.9800)" font-size="25.8" font-style="italic">IL26</text>
<text transform="translate(556.50,961.83) scale(1.0000,0.9800)" font-size="25.8" font-style="italic">IL27</text>
<text transform="translate(556.50,992.40) scale(1.0000,0.9800)" font-size="25.8" font-style="italic">IL33</text>
<text transform="translate(556.50,1022.98) scale(1.0000,0.9800)" font-size="25.8" font-style="italic">IL37</text>
<text transform="translate(556.50,1053.56) scale(1.0000,0.9800)" font-size="25.8" font-style="italic">CNTF</text>
<text transform="translate(556.50,1084.13) scale(1.0000,0.9800)" font-size="25.8" font-style="italic">CSF2</text>
<text transform="translate(556.50,1114.70) scale(1.0000,0.9800)" font-size="25.8" font-style="italic">CSF3</text>
<text transform="translate(556.50,1145.28) scale(1.0000,0.9800)" font-size="25.8" font-style="italic">LIF</text>
<text transform="translate(556.50,1175.86) scale(1.0000,0.9800)" font-size="25.8" font-style="italic">OSM</text>
<rect x="780.80" y="635.80" width="27.50" height="27.70" fill="#a0a0a0"/>
<rect x="813.00" y="635.80" width="25.70" height="27.70" fill="#b0b0b0"/>
<rect x="843.40" y="635.80" width="25.70" height="27.70" fill="#b0b0b0"/>
<rect x="873.80" y="635.80" width="25.70" height="27.70" fill="#b0b0b0"/>
<rect x="904.20" y="635.80" width="25.70" height="27.70" fill="#b0b0b0"/>
<rect x="934.60" y="635.80" width="26.90" height="27.70" fill="#c4c4c4"/>
<rect x="780.80" y="668.00" width="27.50" height="25.90" fill="#ababab"/>
<rect x="813.00" y="668.00" width="25.70" height="25.90" fill="#a0a0a0"/>
<rect x="843.40" y="668.00" width="25.70" height="25.90" fill="#acacac"/>
<rect x="873.80" y="668.00" width="25.70" height="25.90" fill="#acacac"/>
<rect x="904.20" y="668.00" width="25.70" height="25.90" fill="#b8b8b8"/>
<rect x="934.60" y="668.00" width="26.90" height="25.90" fill="#9c9c9c"/>
<rect x="780.80" y="698.40" width="27.50" height="25.90" fill="#4a74c8"/>
<rect x="813.00" y="698.40" width="25.70" height="25.90" fill="#4674cc"/>
<rect x="843.40" y="698.40" width="25.70" height="25.90" fill="#5074bc"/>
<rect x="873.80" y="698.40" width="25.70" height="25.90" fill="#4e76c4"/>
<rect x="904.20" y="698.40" width="25.70" height="25.90" fill="#4a74c8"/>
<rect x="934.60" y="698.40" width="26.90" height="25.90" fill="#5078c0"/>
<rect x="780.80" y="728.80" width="27.50" height="25.90" fill="#888888"/>
<rect x="813.00" y="728.80" width="25.70" height="25.90" fill="#8a8a8a"/>
<rect x="843.40" y="728.80" width="25.70" height="25.90" fill="#888888"/>
<rect x="873.80" y="728.80" width="25.70" height="25.90" fill="#7e7e80"/>
<rect x="904.20" y="728.80" width="25.70" height="25.90" fill="#888888"/>
<rect x="934.60" y="728.80" width="26.90" height="25.90" fill="#8a8a8a"/>
<rect x="813.00" y="759.20" width="25.70" height="25.90" fill="#e2e2e2"/>
<rect x="843.40" y="759.20" width="25.70" height="25.90" fill="#e8e8e8"/>
<rect x="904.20" y="759.20" width="25.70" height="25.90" fill="#e0e0e0"/>
<rect x="934.60" y="759.20" width="26.90" height="25.90" fill="#cacaca"/>
<rect x="780.80" y="789.60" width="27.50" height="25.90" fill="#cacaca"/>
<rect x="813.00" y="789.60" width="25.70" height="25.90" fill="#d4d4d4"/>
<rect x="843.40" y="789.60" width="25.70" height="25.90" fill="#d2d2d2"/>
<rect x="904.20" y="789.60" width="25.70" height="25.90" fill="#d6d6d6"/>
<rect x="780.80" y="820.00" width="27.50" height="25.90" fill="#747a88"/>
<rect x="813.00" y="820.00" width="25.70" height="25.90" fill="#828282"/>
<rect x="843.40" y="820.00" width="25.70" height="25.90" fill="#7e7e7e"/>
<rect x="873.80" y="820.00" width="25.70" height="25.90" fill="#868686"/>
<rect x="904.20" y="820.00" width="25.70" height="25.90" fill="#848484"/>
<rect x="934.60" y="820.00" width="26.90" height="25.90" fill="#929292"/>
<rect x="780.80" y="850.40" width="27.50" height="25.90" fill="#6e7a92"/>
<rect x="813.00" y="850.40" width="25.70" height="25.90" fill="#687a9c"/>
<rect x="843.40" y="850.40" width="25.70" height="25.90" fill="#787878"/>
<rect x="873.80" y="850.40" width="25.70" height="25.90" fill="#6c7a98"/>
<rect x="904.20" y="850.40" width="25.70" height="25.90" fill="#6c7a98"/>
<rect x="934.60" y="850.40" width="26.90" height="25.90" fill="#7c7c7c"/>
<rect x="780.80" y="880.80" width="27.50" height="25.90" fill="#5e78b0"/>
<rect x="813.00" y="880.80" width="25.70" height="25.90" fill="#6278a8"/>
<rect x="843.40" y="880.80" width="25.70" height="25.90" fill="#6478a4"/>
<rect x="873.80" y="880.80" width="25.70" height="25.90" fill="#6278a8"/>
<rect x="904.20" y="880.80" width="25.70" height="25.90" fill="#6278a8"/>
<rect x="934.60" y="880.80" width="26.90" height="25.90" fill="#6a7a9c"/>
<rect x="780.80" y="911.20" width="27.50" height="25.90" fill="#5c78b0"/>
<rect x="813.00" y="911.20" width="25.70" height="25.90" fill="#6078ac"/>
<rect x="843.40" y="911.20" width="25.70" height="25.90" fill="#4e76c8"/>
<rect x="873.80" y="911.20" width="25.70" height="25.90" fill="#6078ac"/>
<rect x="904.20" y="911.20" width="25.70" height="25.90" fill="#6278a8"/>
<rect x="934.60" y="911.20" width="26.90" height="25.90" fill="#5c78b0"/>
<rect x="780.80" y="941.60" width="27.50" height="25.90" fill="#a8a8a8"/>
<rect x="843.40" y="941.60" width="25.70" height="25.90" fill="#e4e4e4"/>
<rect x="873.80" y="941.60" width="25.70" height="25.90" fill="#d8d8d8"/>
<rect x="904.20" y="941.60" width="25.70" height="25.90" fill="#d0d0d0"/>
<rect x="780.80" y="972.00" width="27.50" height="25.90" fill="#5c76b0"/>
<rect x="813.00" y="972.00" width="25.70" height="25.90" fill="#6278a8"/>
<rect x="843.40" y="972.00" width="25.70" height="25.90" fill="#6078ac"/>
<rect x="873.80" y="972.00" width="25.70" height="25.90" fill="#5876b8"/>
<rect x="904.20" y="972.00" width="25.70" height="25.90" fill="#5c78b0"/>
<rect x="934.60" y="972.00" width="26.90" height="25.90" fill="#5876b8"/>
<rect x="780.80" y="1002.40" width="27.50" height="25.90" fill="#5a76b4"/>
<rect x="813.00" y="1002.40" width="25.70" height="25.90" fill="#6278a8"/>
<rect x="843.40" y="1002.40" width="25.70" height="25.90" fill="#68789c"/>
<rect x="873.80" y="1002.40" width="25.70" height="25.90" fill="#5676bc"/>
<rect x="904.20" y="1002.40" width="25.70" height="25.90" fill="#5c78b0"/>
<rect x="934.60" y="1002.40" width="26.90" height="25.90" fill="#5876b8"/>
<rect x="780.80" y="1032.80" width="27.50" height="25.90" fill="#5074c4"/>
<rect x="813.00" y="1032.80" width="25.70" height="25.90" fill="#6278a8"/>
<rect x="843.40" y="1032.80" width="25.70" height="25.90" fill="#4e74c8"/>
<rect x="873.80" y="1032.80" width="25.70" height="25.90" fill="#5c78b0"/>
<rect x="904.20" y="1032.80" width="25.70" height="25.90" fill="#6478a4"/>
<rect x="934.60" y="1032.80" width="26.90" height="25.90" fill="#5a78b4"/>
<rect x="780.80" y="1063.20" width="27.50" height="25.90" fill="#5676bc"/>
<rect x="813.00" y="1063.20" width="25.70" height="25.90" fill="#4472d8"/>
<rect x="843.40" y="1063.20" width="25.70" height="25.90" fill="#4e74c8"/>
<rect x="873.80" y="1063.20" width="25.70" height="25.90" fill="#5676bc"/>
<rect x="904.20" y="1063.20" width="25.70" height="25.90" fill="#4c74cc"/>
<rect x="934.60" y="1063.20" width="26.90" height="25.90" fill="#4a74d0"/>
<rect x="780.80" y="1093.60" width="27.50" height="25.90" fill="#5a76b0"/>
<rect x="813.00" y="1093.60" width="25.70" height="25.90" fill="#4272dc"/>
<rect x="843.40" y="1093.60" width="25.70" height="25.90" fill="#5c78b0"/>
<rect x="873.80" y="1093.60" width="25.70" height="25.90" fill="#5676bc"/>
<rect x="904.20" y="1093.60" width="25.70" height="25.90" fill="#3a72e8"/>
<rect x="934.60" y="1093.60" width="26.90" height="25.90" fill="#3c72e4"/>
<rect x="780.80" y="1124.00" width="27.50" height="25.90" fill="#b8b8b8"/>
<rect x="813.00" y="1124.00" width="25.70" height="25.90" fill="#c4c4c4"/>
<rect x="843.40" y="1124.00" width="25.70" height="25.90" fill="#b0b0b0"/>
<rect x="873.80" y="1124.00" width="25.70" height="25.90" fill="#b0b0b0"/>
<rect x="904.20" y="1124.00" width="25.70" height="25.90" fill="#a8a8a8"/>
<rect x="934.60" y="1124.00" width="26.90" height="25.90" fill="#b0b0b0"/>
<text transform="translate(968.50,656.06) scale(1.0000,0.9800)" font-size="25.8" font-style="italic">LTA</text>
<text transform="translate(968.50,686.63) scale(1.0000,0.9800)" font-size="25.8" font-style="italic">LTB</text>
<text transform="translate(968.50,717.20) scale(1.0000,0.9800)" font-size="25.8" font-style="italic">TNF</text>
<text transform="translate(968.50,747.77) scale(1.0000,0.9800)" font-size="25.8" font-style="italic">TNFSF4</text>
<text transform="translate(968.50,778.34) scale(1.0000,0.9800)" font-size="25.8" font-style="italic">CD40LG</text>
<text transform="translate(968.50,808.90) scale(1.0000,0.9800)" font-size="25.8" font-style="italic">FASLG</text>
<text transform="translate(968.50,839.47) scale(1.0000,0.9800)" font-size="25.8" font-style="italic">CD70</text>
<text transform="translate(968.50,870.04) scale(1.0000,0.9800)" font-size="25.8" font-style="italic">TNFSF8</text>
<text transform="translate(968.50,900.61) scale(1.0000,0.9800)" font-size="25.8" font-style="italic">TNFSF9</text>
<text transform="translate(968.50,931.18) scale(1.0000,0.9800)" font-size="25.8" font-style="italic">TNFSF10</text>
<text transform="translate(968.50,961.75) scale(1.0000,0.9800)" font-size="25.8" font-style="italic">TNFSF11</text>
<text transform="translate(968.50,992.32) scale(1.0000,0.9800)" font-size="25.8" font-style="italic">TNFSF12</text>
<text transform="translate(968.50,1022.89) scale(1.0000,0.9800)" font-size="25.8" font-style="italic">TNFSF13</text>
<text transform="translate(968.50,1053.46) scale(1.0000,0.9800)" font-size="25.8" font-style="italic">TNFSF13B</text>
<text transform="translate(968.50,1084.03) scale(1.0000,0.9800)" font-size="25.8" font-style="italic">TNFSF14</text>
<text transform="translate(968.50,1114.59) scale(1.0000,0.9800)" font-size="25.8" font-style="italic">TNFSF15</text>
<text transform="translate(968.50,1145.16) scale(1.0000,0.9800)" font-size="25.8" font-style="italic">TNFSF18</text>
<rect x="1238.70" y="634.60" width="27.50" height="27.70" fill="#a8a8a8"/>
<rect x="1270.70" y="634.60" width="25.70" height="27.70" fill="#cdcdcd"/>
<rect x="1300.90" y="634.60" width="25.70" height="27.70" fill="#e6e6e6"/>
<rect x="1331.10" y="634.60" width="25.70" height="27.70" fill="#d4d4d4"/>
<rect x="1270.70" y="666.85" width="25.70" height="25.90" fill="#cccccc"/>
<rect x="1331.10" y="666.85" width="25.70" height="25.90" fill="#d4d4d4"/>
<rect x="1238.70" y="697.30" width="27.50" height="25.90" fill="#b8b8b8"/>
<rect x="1270.70" y="697.30" width="25.70" height="25.90" fill="#d2d2d2"/>
<rect x="1300.90" y="697.30" width="25.70" height="25.90" fill="#858585"/>
<rect x="1331.10" y="697.30" width="25.70" height="25.90" fill="#e6e6e6"/>
<rect x="1391.50" y="697.30" width="26.90" height="25.90" fill="#aaaaaa"/>
<rect x="1238.70" y="727.75" width="27.50" height="25.90" fill="#e6e6e6"/>
<rect x="1331.10" y="727.75" width="25.70" height="25.90" fill="#dadada"/>
<rect x="1270.70" y="758.20" width="25.70" height="25.90" fill="#e2e2e2"/>
<rect x="1300.90" y="758.20" width="25.70" height="25.90" fill="#d6d6d6"/>
<rect x="1331.10" y="758.20" width="25.70" height="25.90" fill="#e6e6e6"/>
<rect x="1300.90" y="788.65" width="25.70" height="25.90" fill="#e6e6e6"/>
<rect x="1238.70" y="819.10" width="27.50" height="25.90" fill="#d4d4d4"/>
<rect x="1361.30" y="819.10" width="25.70" height="25.90" fill="#e8e8e8"/>
<rect x="1391.50" y="819.10" width="26.90" height="25.90" fill="#e8e8e8"/>
<rect x="1270.70" y="849.55" width="25.70" height="25.90" fill="#cecece"/>
<rect x="1300.90" y="849.55" width="25.70" height="25.90" fill="#d4d4d4"/>
<rect x="1331.10" y="849.55" width="25.70" height="25.90" fill="#d4d4d4"/>
<rect x="1270.70" y="880.00" width="25.70" height="25.90" fill="#cecece"/>
<rect x="1300.90" y="880.00" width="25.70" height="25.90" fill="#d4d4d4"/>
<rect x="1361.30" y="880.00" width="25.70" height="25.90" fill="#e8e8e8"/>
<rect x="1238.70" y="910.45" width="27.50" height="25.90" fill="#d4d4d4"/>
<rect x="1300.90" y="910.45" width="25.70" height="25.90" fill="#d6d6d6"/>
<text transform="translate(1425.80,658.15) scale(1.0000,0.9800)" font-size="25.8" font-style="italic">IFNG</text>
<text transform="translate(1425.80,688.65) scale(1.0000,0.9800)" font-size="25.8" font-style="italic">IFNA4</text>
<text transform="translate(1425.80,719.15) scale(1.0000,0.9800)" font-size="25.8" font-style="italic">IFNB1</text>
<text transform="translate(1425.80,749.65) scale(1.0000,0.9800)" font-size="25.8" font-style="italic">IFNE</text>
<text transform="translate(1425.80,780.15) scale(1.0000,0.9800)" font-size="25.8" font-style="italic">IFNL1</text>
<text transform="translate(1425.80,810.65) scale(1.0000,0.9800)" font-size="25.8" font-style="italic">IFNL2</text>
<text transform="translate(1425.80,841.15) scale(1.0000,0.9800)" font-size="25.8" font-style="italic">IFNL4</text>
<text transform="translate(1425.80,871.65) scale(1.0000,0.9800)" font-size="25.8" font-style="italic">IFNA14</text>
<text transform="translate(1425.80,902.15) scale(1.0000,0.9800)" font-size="25.8" font-style="italic">IFNA6</text>
<text transform="translate(1425.80,932.65) scale(1.0000,0.9800)" font-size="25.8" font-style="italic">IFNA8</text>
<defs><linearGradient id="cb" x1="0" x2="1" y1="0" y2="0"><stop offset="0" stop-color="#ffffff"/><stop offset="0.364" stop-color="#7f7f7f"/><stop offset="0.62" stop-color="#5a76b0"/><stop offset="1" stop-color="#2f6ffe"/></linearGradient></defs>
<rect x="1225.2" y="1047.5" width="272" height="16.5" fill="url(#cb)" stroke="#d8d8d8" stroke-width="1"/>
<text id="cb0" transform="translate(1229.34,1091.00) scale(1.1739,1.0400)" font-size="24" text-anchor="middle">0</text>
<text id="cb15" transform="translate(1491.15,1091.00) scale(1.0445,1.0400)" font-size="24" text-anchor="middle">15</text>
<text id="cbl" transform="translate(1373.01,1119.40) scale(1.0478,1.0400)" font-size="25" text-anchor="middle">log<tspan font-size="16.5" dy="5">2</tspan><tspan dy="-5"> (norm counts + 1)</tspan></text>
<text id="LG" transform="translate(1631.83,541.00) scale(1.0556,1.0660)" font-size="56" fill="#1a1a1a">G</text>
<text id="tG" transform="translate(1832.98,615.74) scale(1.0075,1.0143)" font-size="34" text-anchor="middle" fill="#0e48ba">pS6</text>
<rect x="1766.0" y="869.4" width="54.60" height="61.00" fill="#e8e8e8" stroke="#1a1a1a" stroke-width="1.8"/>
<rect x="1849.0" y="806.4" width="54.40" height="124.00" fill="#cfe3f9" stroke="#1a1a1a" stroke-width="1.8"/>
<path d="M1738.4,656.65 V930.4 M1734.4,930.4 H1931" stroke="#1a1a1a" stroke-width="1.6" fill="none"/>
<path d="M1733.90,930.40 H1738.4" stroke="#1a1a1a" stroke-width="1.6"/>
<text transform="translate(1730.00,941.10) scale(1.0000,1.0400)" font-size="34.5" text-anchor="end">0.0</text>
<path d="M1733.90,875.65 H1738.4" stroke="#1a1a1a" stroke-width="1.6"/>
<text transform="translate(1730.00,886.35) scale(1.0000,1.0400)" font-size="34.5" text-anchor="end">1.0</text>
<path d="M1733.90,820.90 H1738.4" stroke="#1a1a1a" stroke-width="1.6"/>
<text transform="translate(1730.00,831.60) scale(1.0000,1.0400)" font-size="34.5" text-anchor="end">2.0</text>
<path d="M1733.90,766.15 H1738.4" stroke="#1a1a1a" stroke-width="1.6"/>
<text transform="translate(1730.00,776.85) scale(1.0000,1.0400)" font-size="34.5" text-anchor="end">3.0</text>
<path d="M1733.90,711.40 H1738.4" stroke="#1a1a1a" stroke-width="1.6"/>
<text transform="translate(1730.00,722.10) scale(1.0000,1.0400)" font-size="34.5" text-anchor="end">4.0</text>
<path d="M1733.90,656.65 H1738.4" stroke="#1a1a1a" stroke-width="1.6"/>
<text transform="translate(1730.00,667.35) scale(1.0000,1.0400)" font-size="34.5" text-anchor="end">5.0</text>
<path d="M1793.3,930.4 V934.9" stroke="#1a1a1a" stroke-width="1.6"/>
<path d="M1876.2,930.4 V934.9" stroke="#1a1a1a" stroke-width="1.6"/>
<path d="M1793.4,860 V877.2 M1779.4,860 H1807.4 M1779.4,877.2 H1807.4" stroke="#1a1a1a" stroke-width="1.6" fill="none"/>
<path d="M1876.2,779.4 V832 M1862.4,779.4 H1890 M1862.4,832 H1890" stroke="#1a1a1a" stroke-width="1.6" fill="none"/>
<circle cx="1793.00" cy="837.60" r="4.6" fill="#e8e8e8" stroke="#1a1a1a" stroke-width="1.5"/>
<circle cx="1776.60" cy="854.00" r="4.6" fill="#e8e8e8" stroke="#1a1a1a" stroke-width="1.5"/>
<circle cx="1793.00" cy="860.40" r="4.6" fill="#e8e8e8" stroke="#1a1a1a" stroke-width="1.5"/>
<circle cx="1793.00" cy="882.60" r="4.6" fill="#e8e8e8" stroke="#1a1a1a" stroke-width="1.5"/>
<circle cx="1776.60" cy="889.00" r="4.6" fill="#e8e8e8" stroke="#1a1a1a" stroke-width="1.5"/>
<circle cx="1809.60" cy="887.40" r="4.6" fill="#e8e8e8" stroke="#1a1a1a" stroke-width="1.5"/>
<rect x="1871.80" y="675.20" width="8.4" height="8.4" fill="#cfe3f9" stroke="#1a1a1a" stroke-width="1.5"/>
<rect x="1872.20" y="805.20" width="8.4" height="8.4" fill="#cfe3f9" stroke="#1a1a1a" stroke-width="1.5"/>
<rect x="1855.20" y="821.20" width="8.4" height="8.4" fill="#cfe3f9" stroke="#1a1a1a" stroke-width="1.5"/>
<rect x="1872.20" y="825.80" width="8.4" height="8.4" fill="#cfe3f9" stroke="#1a1a1a" stroke-width="1.5"/>
<rect x="1888.40" y="822.20" width="8.4" height="8.4" fill="#cfe3f9" stroke="#1a1a1a" stroke-width="1.5"/>
<rect x="1872.20" y="860.80" width="8.4" height="8.4" fill="#cfe3f9" stroke="#1a1a1a" stroke-width="1.5"/>
<text id="pG" transform="translate(1833.21,651.13) scale(0.9943,1.0969)" font-size="22.2" text-anchor="middle">p = 0.0152</text>
<path d="M1795.4,663.2 H1876.5" stroke="#1a1a1a" stroke-width="1.8"/>
<text id="yG" transform="translate(1654.90,785.60) rotate(-90) scale(0.9874,1.0400)" font-size="34" text-anchor="middle">pS6/Actin</text>
<defs><linearGradient id="wb" x1="0" x2="0" y1="0" y2="1"><stop offset="0" stop-color="#efefef"/><stop offset="1" stop-color="#f3f3f3"/></linearGradient><filter id="bl1" x="-30%" y="-100%" width="160%" height="300%"><feGaussianBlur stdDeviation="4 3"/></filter><filter id="bl2" x="-30%" y="-100%" width="160%" height="300%"><feGaussianBlur stdDeviation="1.4 1.1"/></filter></defs>
<rect x="1753.4" y="961.4" width="165.2" height="39.2" fill="url(#wb)"/>
<ellipse cx="1800" cy="979.5" rx="28" ry="7" fill="#b8b8b8" filter="url(#bl1)"/>
<ellipse cx="1793" cy="978.5" rx="17" ry="5" fill="#9a9a9a" filter="url(#bl1)"/>
<ellipse cx="1877.5" cy="981" rx="29" ry="8.5" fill="#606060" filter="url(#bl1)"/>
<ellipse cx="1876" cy="980.5" rx="21" ry="5.5" fill="#2c2c2c" filter="url(#bl1)"/>
<rect x="1753.4" y="961.4" width="165.2" height="39.2" fill="none" stroke="#000" stroke-width="2.2"/>
<rect x="1753.4" y="1041.3" width="165.2" height="36.3" fill="url(#wb)"/>
<path d="M1764.5,1061 C1766,1057.5 1778,1057 1784,1059.5 C1795,1061.5 1805,1060.5 1820,1060.5 C1830,1060.5 1832,1062 1831,1063.5 C1829,1066 1815,1065.5 1800,1065 C1790,1064.5 1782,1064 1776,1064.8 C1768,1065.5 1763.5,1064 1764.5,1061 Z" fill="#050505" filter="url(#bl2)"/>
<path d="M1850,1062.5 C1851,1059 1862,1059.5 1870,1060.5 C1885,1061.5 1900,1061 1906,1062.5 C1908.5,1064.5 1905,1066 1898,1066 C1885,1066 1870,1066.2 1858,1066 C1852,1065.8 1849.5,1064.5 1850,1062.5 Z" fill="#050505" filter="url(#bl2)"/>
<rect x="1753.4" y="1041.3" width="165.2" height="36.3" fill="none" stroke="#000" stroke-width="2.2"/>
<path d="M1725.8,984.5 H1753.4 M1725.8,1061.7 H1753.4" stroke="#000" stroke-width="2"/>
<text id="k32" transform="translate(1663.84,992.29) scale(0.9303,1.0575)" font-size="33" text-anchor="middle">32 kDa</text>
<text id="k42" transform="translate(1663.50,1066.00) scale(0.9214,1.0368)" font-size="33" text-anchor="middle">42 kDa</text>
<text id="wpS6" transform="translate(1925.84,992.00) scale(0.9354,1.0000)" font-size="33">pS6</text>
<text id="wAct" transform="translate(1927.70,1066.00) scale(1.0000,0.9112)" font-size="33">Actin</text>
<text id="wGlc" transform="translate(1787.80,1117.86) scale(0.9413,1.0464)" font-size="33" text-anchor="middle">Glc</text>
<text id="wFrc" transform="translate(1873.02,1116.52) scale(0.9296,0.9565)" font-size="33" text-anchor="middle">Frc</text>
</svg>
</body></html>
